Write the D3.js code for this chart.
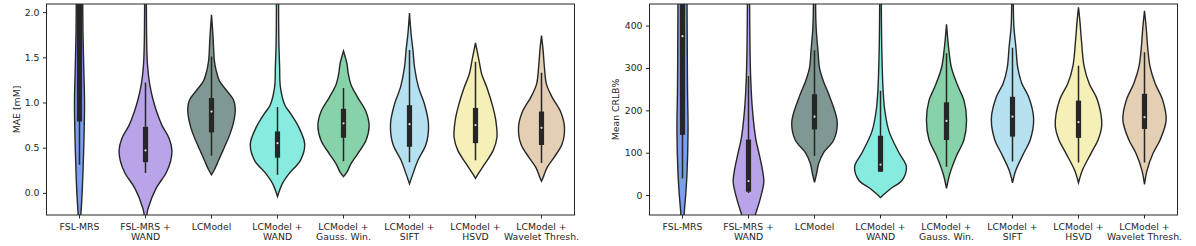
<!DOCTYPE html>
<html>
<head>
<meta charset="utf-8">
<script src="https://cdn.jsdelivr.net/npm/d3@7"></script>
<style>
  body { margin: 0; background: #fff; }
  svg { display: block; font-family: "DejaVu Sans", sans-serif; }
  .axis text { font-family: "DejaVu Sans", sans-serif; font-size: 9.3px; fill: #262626; }
  .axis path, .axis line { stroke: #262626; }
</style>
</head>
<body>
<svg width="1196" height="246"></svg>
<script>
// categories and tick labels
var methods = ["FSL-MRS", "FSL-MRS + WAND", "LCModel", "LCModel + WAND",
               "LCModel + Gauss. Win.", "LCModel + SIFT", "LCModel + HSVD", "LCModel + Wavelet Thresh."];
var tickLines = [["FSL-MRS"], ["FSL-MRS +", "WAND"], ["LCModel"], ["LCModel +", "WAND"],
                 ["LCModel +", "Gauss. Win."], ["LCModel +", "SIFT"], ["LCModel +", "HSVD"], ["LCModel +", "Wavelet Thresh."]];
var colors = ["#7c9ff0", "#b9a3e9", "#7f9893", "#87ebdf", "#88d2aa", "#b6e1f1", "#f5efb8", "#e4cfb4"];

var maeTicks = [0.0, 0.5, 1.0, 1.5, 2.0];
var crlbTicks = [0, 100, 200, 300, 400];

// MAE box stats
var maeQ1 = [0.79, 0.34, 0.67, 0.39, 0.61, 0.51, 0.55, 0.53];
var maeQ3 = [3.0, 0.73, 1.05, 0.68, 0.93, 0.97, 0.94, 0.90];
var maeMed = [2.5, 0.47, 0.90, 0.55, 0.77, 0.76, 0.75, 0.72];
var maeLo = [0.31, 0.22, 0.41, 0.20, 0.35, 0.34, 0.36, 0.33];
var maeHi = [4.0, 1.22, 1.51, 0.95, 1.16, 1.58, 1.45, 1.33];

// MAE density profiles: [value, relative width]
var maeProfiles = [
  [[-0.40, 0], [-0.24, 0.05], [0, 0.10], [0.3, 0.14], [0.6, 0.17], [1.0, 0.19], [1.4, 0.16], [1.8, 0.13], [2.3, 0.12]],
  [[-0.30, 0], [-0.24, 0.05], [-0.17, 0.10], [0.05, 0.40], [0.22, 0.78], [0.35, 0.95], [0.47, 1.0], [0.6, 0.9], [0.75, 0.62], [0.9, 0.42], [1.05, 0.27], [1.2, 0.16], [1.4, 0.08], [1.6, 0.05], [2.3, 0.03]],
  [[0.20, 0], [0.25, 0.10], [0.36, 0.27], [0.5, 0.48], [0.65, 0.70], [0.8, 0.85], [0.93, 0.90], [1.03, 0.83], [1.13, 0.58], [1.24, 0.30], [1.35, 0.18], [1.46, 0.11], [1.72, 0.06], [1.97, 0]],
  [[-0.04, 0], [0.1, 0.18], [0.21, 0.43], [0.36, 0.87], [0.54, 1.03], [0.73, 0.80], [0.88, 0.49], [0.97, 0.28], [1.17, 0.11], [1.4, 0.08], [1.7, 0.05], [2.3, 0.04]],
  [[0.18, 0], [0.23, 0.13], [0.32, 0.28], [0.43, 0.53], [0.58, 0.85], [0.74, 0.97], [0.9, 0.85], [1.06, 0.53], [1.2, 0.28], [1.32, 0.18], [1.43, 0.13], [1.57, 0]],
  [[0.10, 0], [0.21, 0.13], [0.36, 0.32], [0.54, 0.63], [0.76, 0.72], [0.98, 0.57], [1.17, 0.34], [1.39, 0.19], [1.58, 0.13], [1.76, 0.06], [1.99, 0]],
  [[0.16, 0], [0.21, 0.10], [0.32, 0.35], [0.47, 0.67], [0.61, 0.81], [0.8, 0.77], [0.98, 0.63], [1.15, 0.45], [1.32, 0.23], [1.47, 0.13], [1.66, 0]],
  [[0.13, 0], [0.17, 0.06], [0.28, 0.21], [0.39, 0.47], [0.54, 0.78], [0.73, 0.87], [0.9, 0.72], [1.06, 0.40], [1.2, 0.19], [1.39, 0.11], [1.58, 0.06], [1.74, 0]]
];

// CRLB box stats
var crlbQ1 = [142, 8, 155, 55, 130, 138, 135, 156];
var crlbQ3 = [600, 131, 238, 140, 219, 232, 223, 239];
var crlbMed = [375, 33, 185, 72, 175, 185, 172, 184];
var crlbLo = [39, 5, 92, 55, 67, 79, 77, 77];
var crlbHi = [900, 281, 342, 246, 335, 348, 305, 337];

var crlbProfiles = [
  [[-80, 0.04], [-47, 0.06], [0, 0.12], [50, 0.17], [150, 0.21], [250, 0.19], [350, 0.18], [470, 0.17]],
  [[-80, 0.10], [-50, 0.24], [-12, 0.43], [31, 0.58], [59, 0.53], [101, 0.39], [131, 0.28], [201, 0.15], [281, 0.08], [382, 0.05], [470, 0.04]],
  [[30, 0], [51, 0.08], [75, 0.16], [101, 0.35], [130, 0.73], [173, 0.86], [238, 0.54], [270, 0.33], [300, 0.19], [342, 0.13], [398, 0.06], [470, 0.04]],
  [[-6, 0], [0, 0.10], [15, 0.38], [35, 0.82], [67, 0.98], [101, 0.69], [151, 0.32], [201, 0.16], [246, 0.10], [342, 0.05], [470, 0.03]],
  [[16, 0], [51, 0.13], [93, 0.38], [130, 0.66], [177, 0.76], [224, 0.66], [256, 0.44], [300, 0.19], [342, 0.09], [403, 0]],
  [[29, 0], [59, 0.13], [98, 0.42], [130, 0.67], [181, 0.80], [232, 0.61], [264, 0.35], [300, 0.20], [348, 0.13], [400, 0.05], [470, 0.03]],
  [[29, 0], [59, 0.15], [98, 0.47], [130, 0.74], [165, 0.88], [224, 0.72], [264, 0.40], [305, 0.21], [366, 0.11], [413, 0.05], [443, 0]],
  [[25, 0], [59, 0.10], [98, 0.32], [130, 0.59], [177, 0.82], [224, 0.69], [264, 0.40], [303, 0.21], [342, 0.13], [398, 0.06], [435, 0]]
];

var svg = d3.select("svg");

function panel(opts) {
  var left = opts.left, top = 4, width = 528, height = 211;

  var x = d3.scaleBand().domain(methods).range([0, width]).padding(0);
  var y = d3.scaleLinear().domain(opts.domain).range([height, 0]);
  var w = d3.scaleLinear().domain([0, 1]).range([0, x.bandwidth() * 0.4]);

  var g = svg.append("g").attr("transform", "translate(" + left + "," + top + ")");

  var clipId = "clip" + opts.id;
  g.append("clipPath").attr("id", clipId)
    .append("rect").attr("width", width).attr("height", height);

  var plot = g.append("g").attr("clip-path", "url(#" + clipId + ")");

  methods.forEach(function(m, i) {
    var cx = x(m) + x.bandwidth() / 2;
    var area = d3.area()
      .curve(d3.curveCatmullRom)
      .y(function(d) { return y(d[0]); })
      .x0(function(d) { return cx - w(d[1]); })
      .x1(function(d) { return cx + w(d[1]); });

    plot.append("path")
      .attr("d", area(opts.profiles[i]))
      .attr("fill", colors[i])
      .attr("stroke", "#262626")
      .attr("stroke-width", 1.4);

    // whisker
    plot.append("line")
      .attr("x1", cx).attr("x2", cx)
      .attr("y1", y(opts.lo[i])).attr("y2", y(opts.hi[i]))
      .attr("stroke", "#262626").attr("stroke-width", 1.5);

    // box
    plot.append("rect")
      .attr("x", cx - 2.6).attr("width", 5.2)
      .attr("y", y(opts.q3[i]))
      .attr("height", y(opts.q1[i]) - y(opts.q3[i]))
      .attr("fill", "#262626");

    // median
    plot.append("circle")
      .attr("cx", cx).attr("cy", y(opts.med[i]))
      .attr("r", 1.1).attr("fill", "#ddd");
  });

  // frame
  g.append("rect")
    .attr("width", width).attr("height", height)
    .attr("fill", "none").attr("stroke", "#262626").attr("stroke-width", 1);

  var yAxis = d3.axisLeft(y).tickValues(opts.ticks).tickFormat(opts.fmt).tickSize(3.5).tickPadding(3.5);
  var ya = g.append("g").attr("class", "axis").call(yAxis);
  ya.select(".domain").remove();

  var xAxis = d3.axisBottom(x).tickSize(3.5).tickPadding(3).tickFormat("");
  var xa = g.append("g").attr("class", "axis")
    .attr("transform", "translate(0," + height + ")")
    .call(xAxis);
  xa.select(".domain").remove();
  xa.selectAll(".tick").each(function(d, i) {
    var t = d3.select(this).append("text")
      .attr("fill", "#262626")
      .attr("text-anchor", "middle")
      .attr("y", 14.5);
    tickLines[i].forEach(function(line, j) {
      t.append("tspan").attr("x", 0).attr("dy", j === 0 ? 0 : 10.8).text(line);
    });
  });

  g.append("text")
    .attr("transform", "translate(" + opts.labelX + "," + (height / 2) + ") rotate(-90)")
    .attr("text-anchor", "middle")
    .attr("fill", "#262626")
    .style("font-size", "9.3px")
    .text(opts.label);
}

panel({
  id: "mae", left: 46.5, domain: [-0.245, 2.09],
  ticks: maeTicks, fmt: d3.format(".1f"), label: "MAE [mM]", labelX: -27,
  profiles: maeProfiles, q1: maeQ1, q3: maeQ3, med: maeMed, lo: maeLo, hi: maeHi
});

panel({
  id: "crlb", left: 649.5, domain: [-47, 451],
  ticks: crlbTicks, fmt: d3.format("d"), label: "Mean CRLB%", labelX: -31,
  profiles: crlbProfiles, q1: crlbQ1, q3: crlbQ3, med: crlbMed, lo: crlbLo, hi: crlbHi
});
</script>
</body>
</html>
